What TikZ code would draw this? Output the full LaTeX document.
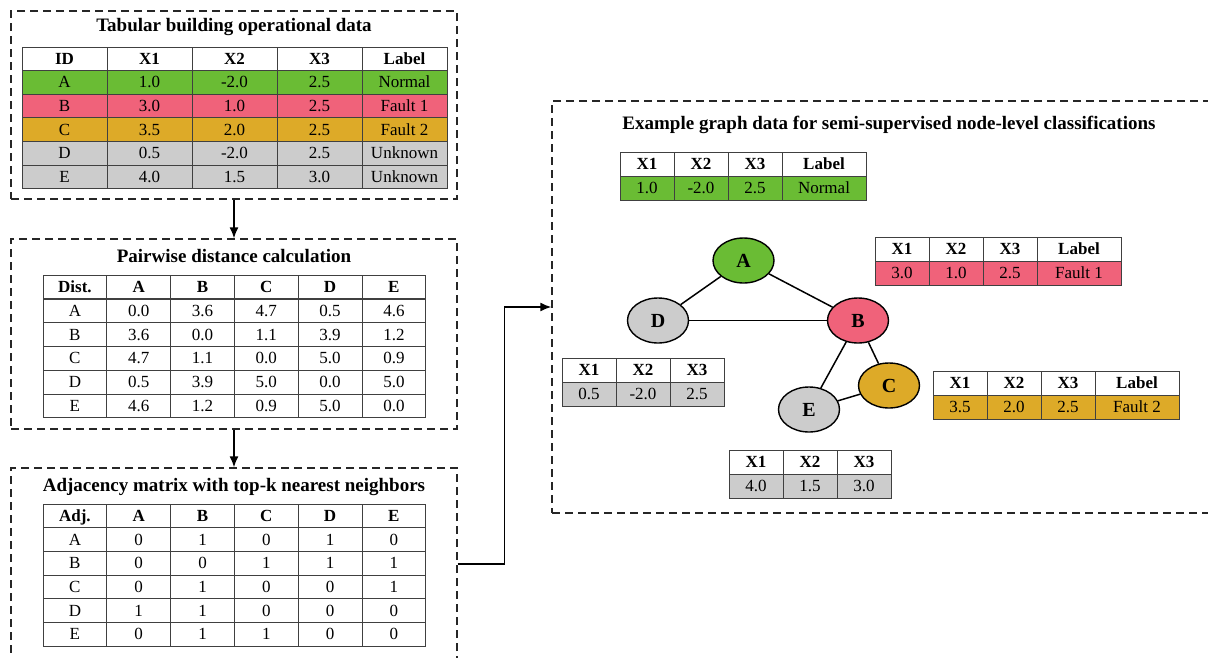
\documentclass[tikz,border=0pt]{standalone}
\usepackage{fontspec}
\setmainfont{Liberation Serif}
\usetikzlibrary{shapes.geometric,arrows.meta}

\definecolor{grn}{RGB}{106,188,52}
\definecolor{pnk}{RGB}{240,98,122}
\definecolor{gld}{RGB}{221,170,40}
\definecolor{gry}{RGB}{204,204,204}
\colorlet{row1}{grn}
\colorlet{row2}{pnk}
\colorlet{row3}{gld}
\colorlet{row4}{gry}
\colorlet{row5}{gry}

\begin{document}
\begin{tikzpicture}[
        x=1pt, y=-1pt,
        panel/.style={
            draw=black!85,
            line width=1.4pt,
            dash pattern=on 8pt off 5pt,
            inner sep=0pt
        },
        title/.style={
            anchor=base,
            inner sep=0pt,
            font=\fontsize{19}{19}\selectfont\bfseries
        },
        cell/.style={
            draw=black!75,
            line width=0.8pt,
            minimum height=23.6pt,
            inner sep=0pt,
            text height=11.5pt,
            text depth=0.5pt,
            font=\fontsize{17}{17}\selectfont
        },
        head/.style={
            cell,
            fill=white,
            font=\fontsize{17}{17}\selectfont\bfseries
        },
        vertex/.style={
            ellipse,
            draw=black,
            line width=1.4pt,
            minimum width=61pt,
            minimum height=45pt,
            inner sep=0pt,
            font=\fontsize{20}{20}\selectfont\bfseries
        },
        edge/.style={line width=1.5pt},
        arr/.style={line width=1.4pt, -{Latex[length=11pt,width=9pt]}}
    ]

    \useasboundingbox (0,0) rectangle (1208,657);

    % Paneles
    \node[panel, minimum width=446, minimum height=188] (box1) at (234,105) {};
    \node[panel, minimum width=446, minimum height=190] (box2) at (234,334) {};
    \node[panel, minimum width=446, minimum height=192] (box3) at (234,564) {};
    \node[panel, minimum width=663, minimum height=412] (box4) at (883.5,307) {};

    \node[title] (title1) at (234,31.7)  {Tabular building operational data};
    \node[title] (title2) at (234,262.3) {Pairwise distance calculation};
    \node[title] (title3) at (234,491.7) {Adjacency matrix with top-k nearest neighbors};
    \node[title] (title4) at (889,129.3) {Example graph data for semi-supervised node-level classifications};

    % Tabla de datos
    \foreach \v [count=\c] in {ID,X1,X2,X3,Label}
        \node[head, minimum width=85] (tab-0-\c) at ({22+85*\c-42.5},58.8) {\v};
    \foreach \vals [count=\r] in {{A,1.0,-2.0,2.5,Normal},{B,3.0,1.0,2.5,Fault 1},
            {C,3.5,2.0,2.5,Fault 2},{D,0.5,-2.0,2.5,Unknown},{E,4.0,1.5,3.0,Unknown}}
        \foreach \v [count=\c] in \vals
            \node[cell, minimum width=85, fill=row\r] (tab-\r-\c) at ({22+85*\c-42.5},{58.8+23.6*\r}) {\v};

    % Distancias
    \foreach \v [count=\c] in {Dist.,A,B,C,D,E}
        \node[head, minimum width=63.8] (dist-0-\c) at ({43+63.8*\c-31.9},286.9) {\v};
    \foreach \vals [count=\r] in {{A,0.0,3.6,4.7,0.5,4.6},{B,3.6,0.0,1.1,3.9,1.2},
            {C,4.7,1.1,0.0,5.0,0.9},{D,0.5,3.9,5.0,0.0,5.0},{E,4.6,1.2,0.9,5.0,0.0}}
        \foreach \v [count=\c] in \vals
            \node[cell, minimum width=63.8] (dist-\r-\c) at ({43+63.8*\c-31.9},{286.9+23.8*\r}) {\v};

    % Adyacencia
    \foreach \v [count=\c] in {Adj.,A,B,C,D,E}
        \node[head, minimum width=63.8] (adj-0-\c) at ({43+63.8*\c-31.9},515.8) {\v};
    \foreach \vals [count=\r] in {{A,0,1,0,1,0},{B,0,0,1,1,1},
            {C,0,1,0,0,1},{D,1,1,0,0,0},{E,0,1,1,0,0}}
        \foreach \v [count=\c] in \vals
            \node[cell, minimum width=63.8] (adj-\r-\c) at ({43+63.8*\c-31.9},{515.8+23.7*\r}) {\v};

    % Vértices
    \node[vertex, fill=grn] (A) at (743.5,260.5) {A};
    \node[vertex, fill=pnk] (B) at (858,320.5)   {B};
    \node[vertex, fill=gld] (C) at (889,385.5)   {C};
    \node[vertex, fill=gry] (D) at (658,320.5)   {D};
    \node[vertex, fill=gry] (E) at (809,409.5)   {E};

    % Aristas
    \draw[edge] (A) -- (D);
    \draw[edge] (A) -- (B);
    \draw[edge] (D) -- (B);
    \draw[edge] (B) -- (E);
    \draw[edge] (B) -- (C);
    \draw[edge] (E) -- (C);

    % Atributos de los vértices
    \foreach \t/\L/\T/\fc/\xa/\xb/\xc/\lab in {fa/620/152/grn/1.0/-2.0/2.5/Normal,
            fb/875/237/pnk/3.0/1.0/2.5/Fault 1, fc/933/371/gld/3.5/2.0/2.5/Fault 2,
            fd/562/358/gry/0.5/-2.0/2.5/, fe/729/450/gry/4.0/1.5/3.0/}{
        \foreach \h/\v/\dx [count=\c] in {X1/\xa/27, X2/\xb/81, X3/\xc/135}{
            \node[head, minimum width=54, minimum height=24] (\t-h\c) at ({\L+\dx},{\T+12}) {\h};
            \node[cell, minimum width=54, minimum height=24, fill=\fc] (\t-v\c) at ({\L+\dx},{\T+36}) {\v};
        }
        \ifx\lab\empty\else
            \node[head, minimum width=84, minimum height=24] (\t-h4) at ({\L+204},{\T+12}) {Label};
            \node[cell, minimum width=84, minimum height=24, fill=\fc] (\t-v4) at ({\L+204},{\T+36}) {\lab};
        \fi
    }

    % Flechas
    \draw[arr] (box1.south) -- (box2.north);
    \draw[arr] (box2.south) -- (box3.north);
    \draw[arr] (box3.east) -- ++(47,0) |- (box4.west);

\end{tikzpicture}
\end{document}
